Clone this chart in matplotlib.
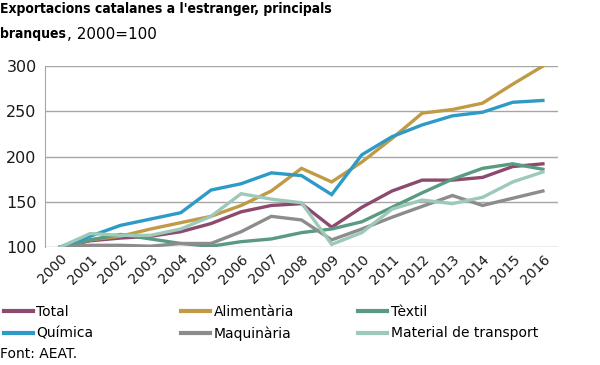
import numpy as np
import matplotlib.pyplot as plt
from matplotlib.lines import Line2D

# data
years = [str(y) for y in range(2000, 2017)]
total = [100, 107, 110, 112, 117, 126, 139, 146, 148, 122, 144, 162, 174, 174, 177, 189, 192]
alimentaria = [100, 108, 112, 120, 127, 134, 146, 162, 187, 172, 194, 220, 248, 252, 259, 280, 300]
textil = [100, 108, 114, 109, 104, 101, 106, 109, 116, 120, 128, 144, 160, 175, 187, 192, 186]
quimica = [100, 112, 124, 131, 138, 163, 170, 182, 179, 158, 202, 222, 235, 245, 249, 260, 262]
maquinaria = [100, 102, 102, 101, 104, 104, 117, 134, 130, 108, 120, 133, 145, 157, 146, 154, 162]
transport = [100, 115, 113, 113, 120, 134, 159, 153, 149, 103, 116, 142, 152, 148, 155, 172, 183]

series = [
    ("Total", total, "#8b4a6e"),
    ("Alimentària", alimentaria, "#c09a45"),
    ("Tèxtil", textil, "#5a9a80"),
    ("Química", quimica, "#2e9ac7"),
    ("Maquinària", maquinaria, "#8c8c8c"),
    ("Material de transport", transport, "#9dc9b8"),
]

plt.rcParams['font.family'] = ['DejaVu Sans']

fig = plt.figure(figsize=(6, 3.65), dpi=100)
ax = fig.add_axes([0.075, 0.323, 0.855, 0.496])

x = np.arange(len(years))
for name, vals, col in series:
    ax.plot(x, vals, color=col, lw=2.4, solid_joinstyle='miter', zorder=3)

ax.set_xlim(-0.5, len(years) - 0.5)
ax.set_ylim(100, 300)
ax.set_yticks([100, 150, 200, 250, 300])
ax.yaxis.grid(True, color="#a6a6a6", lw=1)
ax.set_axisbelow(True)
for s in ['top', 'right', 'bottom']:
    ax.spines[s].set_visible(False)
ax.spines['left'].set_color("#a6a6a6")
ax.tick_params(axis='both', length=0, colors="#1a1a1a")
ax.tick_params(axis='y', pad=6, labelsize=11.5)
ax.set_xticks(x)
ax.set_xticklabels(years, rotation=45, ha='right', rotation_mode='anchor', fontsize=10)

fig.text(0.0, 0.995, "Exportacions catalanes a l'estranger, principals", fontsize=10,
         fontweight='bold', va='top', ha='left', fontstretch='condensed')
fig.text(0.0, 0.925, "branques", fontsize=10, fontweight='bold', va='top', ha='left',
         fontstretch='condensed')
fig.text(0.111, 0.925, ", 2000=100", fontsize=11, va='top', ha='left')

# legend in three fixed columns (two rows each)
cols = [[0, 3], [1, 4], [2, 5]]
col_x = [0.006, 0.302, 0.597]
for idx, cx in zip(cols, col_x):
    hs = [Line2D([], [], color=series[i][2], lw=3) for i in idx]
    ls = [series[i][0] for i in idx]
    fig.legend(hs, ls, loc='upper left', bbox_to_anchor=(cx, 0.165), frameon=False,
               fontsize=10, handlelength=2.1, handletextpad=0.25,
               labelspacing=0.55, borderaxespad=0, borderpad=0)

fig.text(0.0, 0.01, "Font: AEAT.", fontsize=10, va='bottom', ha='left')

fig.savefig("out.png", dpi=100)
